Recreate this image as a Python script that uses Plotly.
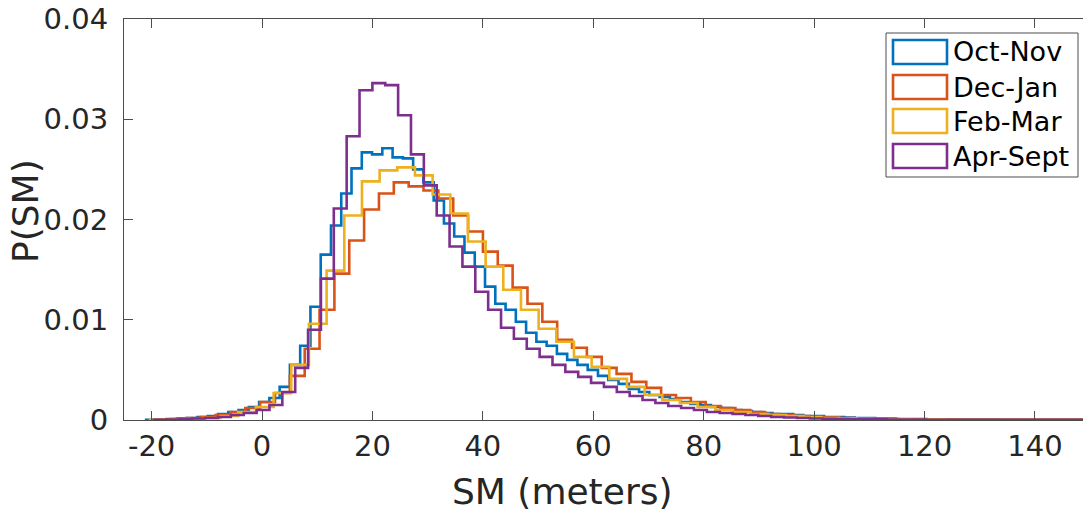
import plotly.graph_objects as go

# ---------------- data ----------------
series_names = ["Oct-Nov", "Dec-Jan", "Feb-Mar", "Apr-Sept"]

# first bin edge and bin width of each series (SM, meters)
oct_nov_first_edge, oct_nov_bin_width = -20.99, 1.86
dec_jan_first_edge, dec_jan_bin_width = -19.17, 2.69
feb_mar_first_edge, feb_mar_bin_width = -20.3, 3.2
apr_sept_first_edge, apr_sept_bin_width = -19.62, 2.33

oct_nov_p = [
    0.00003, 0.00005, 0.0001, 0.00015, 0.0002, 0.0003, 0.0004, 0.0006, 0.0008, 0.0010,
    0.0013, 0.0018, 0.0022, 0.0033, 0.0055, 0.0074, 0.0113, 0.0165, 0.0194, 0.0226,
    0.0251, 0.0267, 0.0265, 0.0271, 0.0262, 0.0261, 0.0250, 0.0237, 0.0219, 0.0196,
    0.0183, 0.0167, 0.0153, 0.0133, 0.0116, 0.0110, 0.0098, 0.0087, 0.0078, 0.0074,
    0.0066, 0.0060, 0.0055, 0.0050, 0.0044, 0.0040, 0.0036, 0.0031, 0.0028, 0.0025,
    0.0023, 0.0021, 0.0018, 0.0016, 0.0015, 0.0013, 0.0012, 0.0010, 0.0009, 0.0008,
    0.0007, 0.0006, 0.0006, 0.0005, 0.0004, 0.0004, 0.0003, 0.0003, 0.00025, 0.0002,
    0.0002, 0.00015, 0.00015, 0.0001, 0.0001, 0.0001, 0.00008, 0.00007, 0.00006, 0.00005,
    0.00005, 0.00004, 0.00004, 0.00003, 0.00003, 0.00003, 0.00002, 0.00002, 0.00002, 0.00002,
    0.00001, 0.00001, 0.00001,
]

dec_jan_p = [
    0.00005, 0.0001, 0.0002, 0.0003, 0.0005, 0.0008, 0.0012, 0.0018, 0.0027, 0.0044,
    0.0071, 0.0110, 0.0146, 0.0179, 0.0210, 0.0226, 0.0237, 0.0233, 0.0229, 0.0221,
    0.0204, 0.0188, 0.0168, 0.0154, 0.0132, 0.0116, 0.0098, 0.0080, 0.0072, 0.0063,
    0.0052, 0.0046, 0.0038, 0.0032, 0.0025, 0.0022, 0.0018, 0.0014, 0.0012, 0.0010,
    0.0008, 0.0006, 0.0005, 0.0004, 0.0003, 0.00025, 0.0002, 0.00015, 0.00012, 0.0001,
    0.00008, 0.00006, 0.00005, 0.00004, 0.00003, 0.00003, 0.00002, 0.00002, 0.00001, 0.00001,
    0.00001, 0.00001, 0.00001,
]

feb_mar_p = [
    0.00003, 0.00005, 0.0001, 0.0002, 0.0004, 0.0008, 0.0013, 0.0027, 0.0055, 0.0096,
    0.0149, 0.0204, 0.0238, 0.0249, 0.0252, 0.0244, 0.0225, 0.0206, 0.0178, 0.0153,
    0.0130, 0.0110, 0.0091, 0.0078, 0.0063, 0.0053, 0.0041, 0.0033, 0.0025, 0.0020,
    0.0017, 0.0013, 0.0010, 0.0008, 0.0006, 0.0005, 0.0004, 0.0003, 0.0002, 0.00015,
    0.0001, 0.00008, 0.00006, 0.00005, 0.00004, 0.00003, 0.00002, 0.00002, 0.00001, 0.00001,
    0.00001, 0.00001, 0.00001, 0.00001,
]

apr_sept_p = [
    0.00003, 0.00005, 0.0001, 0.00015, 0.0002, 0.0003, 0.0005, 0.0007, 0.0010, 0.0015,
    0.0028, 0.0052, 0.0090, 0.0141, 0.0211, 0.0283, 0.0329, 0.0336, 0.0334, 0.0304,
    0.0265, 0.0234, 0.0204, 0.0173, 0.0153, 0.0128, 0.0110, 0.0092, 0.0081, 0.0071,
    0.0063, 0.0055, 0.0048, 0.0043, 0.0037, 0.0033, 0.0028, 0.0024, 0.0020, 0.0017,
    0.0014, 0.0012, 0.0010, 0.0008, 0.0007, 0.0006, 0.0005, 0.0004, 0.0003, 0.00025,
    0.0002, 0.00015, 0.00012, 0.0001, 0.00008, 0.00007, 0.00006, 0.00005, 0.00004, 0.00004,
    0.00003, 0.00003, 0.00002, 0.00002, 0.00002, 0.00001, 0.00001, 0.00001, 0.00001, 0.00001,
    0.00001, 0.00001, 0.00001,
]

x_tick_values = [-20, 0, 20, 40, 60, 80, 100, 120, 140]
x_tick_labels = ["-20", "0", "20", "40", "60", "80", "100", "120", "140"]
y_tick_values = [0, 0.01, 0.02, 0.03, 0.04]
y_tick_labels = ["0", "0.01", "0.02", "0.03", "0.04"]

# ---------------- styling ----------------
colors = ["#0072BD", "#D95319", "#EDB120", "#7E2F8E"]
FONT = "DejaVu Sans"
TXT = "#262626"
AX = "#4d4d4d"

W, H = 1083, 514
ML, MR, MT, MB = 124, 0, 19, 94
PW, PH = W - ML - MR, H - MT - MB


def px_x(px):
    return (px - ML) / PW


def px_y(py):
    return (H - MB - py) / PH


def stairs(first_edge, width, vals):
    edges = [first_edge + width * i for i in range(len(vals) + 1)]
    xs = [edges[0]] + edges
    ys = [0] + list(vals) + [0]
    return xs, ys


series = [
    (oct_nov_first_edge, oct_nov_bin_width, oct_nov_p),
    (dec_jan_first_edge, dec_jan_bin_width, dec_jan_p),
    (feb_mar_first_edge, feb_mar_bin_width, feb_mar_p),
    (apr_sept_first_edge, apr_sept_bin_width, apr_sept_p),
]

fig = go.Figure()
for name, col, (e0, bw, vals) in zip(series_names, colors, series):
    xs, ys = stairs(e0, bw, vals)
    fig.add_trace(go.Scatter(
        x=xs, y=ys, mode="lines", name=name,
        line=dict(color=col, width=2.6, shape="hv"),
        showlegend=False, hoverinfo="skip",
    ))

fig.update_layout(
    width=W, height=H,
    margin=dict(l=ML, r=MR, t=MT, b=MB),
    plot_bgcolor="white", paper_bgcolor="white",
    font=dict(family=FONT, color=TXT, size=29),
    showlegend=False,
)
fig.update_xaxes(
    range=[-25, 148.7], tickvals=x_tick_values, ticktext=x_tick_labels,
    ticks="inside", ticklen=9, tickwidth=1, tickcolor=AX,
    showline=True, linecolor=AX, linewidth=1, mirror="ticks",
    showgrid=False, zeroline=False,
    tickfont=dict(family=FONT, size=29, color=TXT),
)
fig.update_yaxes(
    range=[0, 0.04], tickvals=y_tick_values, ticktext=y_tick_labels,
    ticks="inside", ticklen=9, tickwidth=1, tickcolor=AX,
    showline=True, linecolor=AX, linewidth=1, mirror=False,
    showgrid=False, zeroline=False, ticklabelstandoff=9,
    tickfont=dict(family=FONT, size=29, color=TXT),
)

# axis titles
fig.add_annotation(text="SM (meters)", xref="paper", yref="paper",
                   x=px_x(562), y=px_y(492), xanchor="center", yanchor="middle",
                   showarrow=False, font=dict(family=FONT, size=36, color=TXT))
fig.add_annotation(text="P(SM)", xref="paper", yref="paper", textangle=-90,
                   x=px_x(25), y=px_y(211), xanchor="center", yanchor="middle",
                   showarrow=False, font=dict(family=FONT, size=36, color=TXT))

# legend box (drawn like MATLAB's)
fig.add_shape(type="rect", xref="paper", yref="paper",
              x0=px_x(886), x1=px_x(1078), y0=px_y(177), y1=px_y(33),
              line=dict(color=AX, width=1), fillcolor="white", layer="above")
row_centers = [52, 87, 121, 156]
for name, col, yc in zip(series_names, colors, row_centers):
    fig.add_shape(type="rect", xref="paper", yref="paper",
                  x0=px_x(893), x1=px_x(947), y0=px_y(yc + 12), y1=px_y(yc - 12),
                  line=dict(color=col, width=2.6), fillcolor="rgba(0,0,0,0)", layer="above")
    fig.add_annotation(text=name, xref="paper", yref="paper",
                       x=px_x(951), y=px_y(yc), xanchor="left", yanchor="middle",
                       showarrow=False, font=dict(family=FONT, size=27, color="#000000"))

fig.write_html("out.html")
